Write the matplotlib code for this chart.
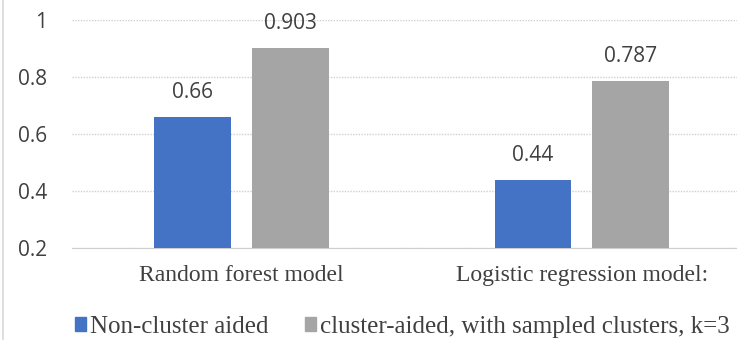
import numpy as np
import matplotlib.pyplot as plt
from matplotlib.lines import Line2D
from matplotlib.patches import Patch

# Model scores
categories = ['Random forest model', 'Logistic regression model:']
non_cluster = [0.66, 0.44]
cluster_aided = [0.903, 0.787]
series_names = ['Non-cluster aided', 'cluster-aided, with sampled clusters, k=3']
y_ticks = [0.2, 0.4, 0.6, 0.8, 1.0]
y_tick_labels = ['0.2', '0.4', '0.6', '0.8', '1']

blue = '#4472C4'
grey = '#A5A5A5'
text_grey = '#404040'

fig = plt.figure(figsize=(7.37, 3.40), dpi=100)
ax = fig.add_axes([71.5 / 737, 1 - 248 / 340, 1 - 71.5 / 737, 228 / 340])

x = np.arange(len(categories))
width = 0.226
off = 0.143
b1 = ax.bar(x - off, non_cluster, width, bottom=0, color=blue, zorder=3)
b2 = ax.bar(x + off, cluster_aided, width, bottom=0, color=grey, zorder=3)

for bars, vals in [(b1, non_cluster), (b2, cluster_aided)]:
    for r, v in zip(bars, vals):
        ax.text(r.get_x() + r.get_width() / 2, v + 0.065, f'{v:g}',
                ha='center', va='baseline', fontsize=15, color=text_grey,
                family='Open Sans')

ax.set_ylim(0.2, 1.0)
ax.set_xlim(-0.5, 1.457)
ax.set_yticks(y_ticks)
ax.set_yticklabels(y_tick_labels, fontsize=15, color=text_grey, family='Open Sans')
ax.tick_params(axis='y', length=0, pad=17.5)
ax.set_xticks(x)
ax.set_xticklabels(categories, fontsize=17, color='#404040', family='Liberation Serif')
ax.tick_params(axis='x', length=0, pad=12)
ax.yaxis.grid(True, color='#cfcfcf', linestyle=(0, (1, 1)), linewidth=1, zorder=0)
ax.set_axisbelow(True)
for s in ax.spines.values():
    s.set_visible(False)
ax.spines['bottom'].set_visible(True)
ax.spines['bottom'].set_color('#cfcfcf')
ax.spines['bottom'].set_linestyle((0, (1, 1)))

# Legend below the axes
handles = [Patch(color=blue), Patch(color=grey)]
fig.legend(handles, series_names, loc='center', bbox_to_anchor=(402.5 / 737, 1 - 327 / 340),
           ncol=2, frameon=False, prop={'family': 'Liberation Serif', 'size': 18},
           handlelength=0.45, handleheight=0.45, handletextpad=0.17, columnspacing=1.45,
           labelcolor='#404040', borderpad=0, borderaxespad=0)

# Chart area border on the left
fig.add_artist(Line2D([3 / 737, 3 / 737], [0, 1], color='#d9d9d9', linewidth=1.2))

fig.savefig('out.png', dpi=100)
